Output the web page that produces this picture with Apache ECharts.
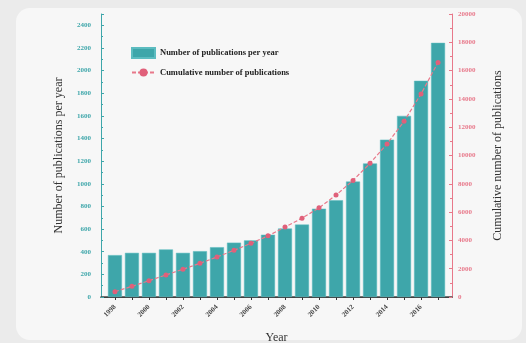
<!DOCTYPE html>
<html>
<head>
<meta charset="utf-8">
<script src="https://cdn.jsdelivr.net/npm/echarts@6/dist/echarts.min.js"></script>
<style>
  html, body { margin: 0; padding: 0; background: #ebebeb; }
  #card { position: absolute; left: 16px; top: 8px; width: 506px; height: 332px; background: #f7f7f7; border-radius: 14px; }
  #chart { position: absolute; left: 0; top: 0; width: 526px; height: 343px; }
</style>
</head>
<body>
<div id="card"></div>
<div id="chart"></div>
<script>
// Publications per year and running total, 1998-2017
const years = [1998, 1999, 2000, 2001, 2002, 2003, 2004, 2005, 2006, 2007,
               2008, 2009, 2010, 2011, 2012, 2013, 2014, 2015, 2016, 2017];
const perYear = [370, 390, 390, 420, 390, 405, 440, 480, 500, 550,
                 605, 640, 780, 855, 1020, 1180, 1390, 1600, 1910, 2245];
const cumulative = [370, 760, 1150, 1560, 1960, 2380, 2830, 3300, 3790, 4320,
                    4940, 5570, 6300, 7200, 8240, 9450, 10820, 12420, 14350, 16580];
const yearLabels = [1998, 2000, 2002, 2004, 2006, 2008, 2010, 2012, 2014, 2016];

const TEAL = '#3ea6aa';
const PINK = '#e8788a';
const SERIF = 'Liberation Serif';
const plain = v => String(v);

const chart = echarts.init(document.getElementById('chart'), null, { renderer: 'canvas' });

const xBase = {
  type: 'value',
  min: 1997.18,
  max: 2017.82,
  splitLine: { show: false }
};

chart.setOption({
  backgroundColor: 'transparent',
  animation: false,
  grid: { left: 101, right: 74, top: 14, bottom: 46, containLabel: false, outerBoundsMode: 'none' },
  legend: {
    orient: 'vertical',
    left: 126,
    top: 42,
    itemWidth: 23,
    itemHeight: 10,
    itemGap: 9,
    textStyle: { fontFamily: SERIF, fontSize: 8.5, fontWeight: 'bold', color: '#222' },
    data: [
      { name: 'Number of publications per year', icon: 'rect' },
      { name: 'Cumulative number of publications' }
    ]
  },
  xAxis: [
    Object.assign({}, xBase, {
      position: 'bottom',
      name: 'Year',
      nameLocation: 'middle',
      nameGap: 35,
      nameTextStyle: { fontFamily: SERIF, fontSize: 12, color: '#333' },
      axisLine: { show: true, lineStyle: { color: '#333', width: 1 } },
      axisTick: { show: true, inside: false, length: 3, customValues: years, lineStyle: { color: '#333' } },
      axisLabel: {
        customValues: yearLabels,
        formatter: plain,
        rotate: 45,
        fontFamily: SERIF,
        fontSize: 7,
        fontWeight: 'bold',
        color: '#444',
        margin: 9
      }
    }),
    Object.assign({}, xBase, {
      position: 'top',
      axisLine: { show: true, lineStyle: { color: '#444', width: 1.5 } },
      axisTick: { show: false },
      axisLabel: { show: false }
    })
  ],
  yAxis: [
    {
      type: 'value',
      position: 'left',
      min: 0,
      max: 2500,
      interval: 200,
      name: 'Number of publications per year',
      nameLocation: 'middle',
      nameGap: 36,
      nameTextStyle: { fontFamily: SERIF, fontSize: 12, color: '#333' },
      axisLine: { show: true, lineStyle: { color: TEAL, width: 1 } },
      axisTick: { show: true, inside: true, length: 3, lineStyle: { color: TEAL } },
      minorTick: { show: true, splitNumber: 2, length: 2, lineStyle: { color: TEAL } },
      axisLabel: { showMaxLabel: false, formatter: plain, fontFamily: SERIF, fontSize: 7, fontWeight: 'bold', color: TEAL, margin: 10 },
      splitLine: { show: false }
    },
    {
      type: 'value',
      position: 'right',
      min: 0,
      max: 20000,
      interval: 2000,
      name: 'Cumulative number of publications',
      nameLocation: 'middle',
      nameGap: 40,
      nameRotate: 90,
      nameTextStyle: { fontFamily: SERIF, fontSize: 12, color: '#333' },
      axisLine: { show: true, lineStyle: { color: PINK, width: 1 } },
      axisTick: { show: true, inside: true, length: 3, lineStyle: { color: PINK } },
      minorTick: { show: true, splitNumber: 2, length: 2, lineStyle: { color: PINK } },
      axisLabel: { formatter: plain, fontFamily: SERIF, fontSize: 7, fontWeight: 'bold', color: PINK, margin: 6 },
      splitLine: { show: false }
    }
  ],
  series: [
    {
      name: 'Number of publications per year',
      type: 'bar',
      xAxisIndex: 0,
      yAxisIndex: 0,
      barWidth: 14,
      itemStyle: { color: TEAL, borderColor: '#5cbcc0', borderWidth: 0.5 },
      data: years.map((y, i) => [y, perYear[i]])
    },
    {
      name: 'Cumulative number of publications',
      type: 'line',
      xAxisIndex: 0,
      yAxisIndex: 1,
      symbol: 'circle',
      symbolSize: 5,
      itemStyle: { color: '#e0607a' },
      lineStyle: { color: PINK, width: 1.2, type: [4, 2] },
      z: 3,
      data: years.map((y, i) => [y, cumulative[i]])
    }
  ]
});
</script>
</body>
</html>
